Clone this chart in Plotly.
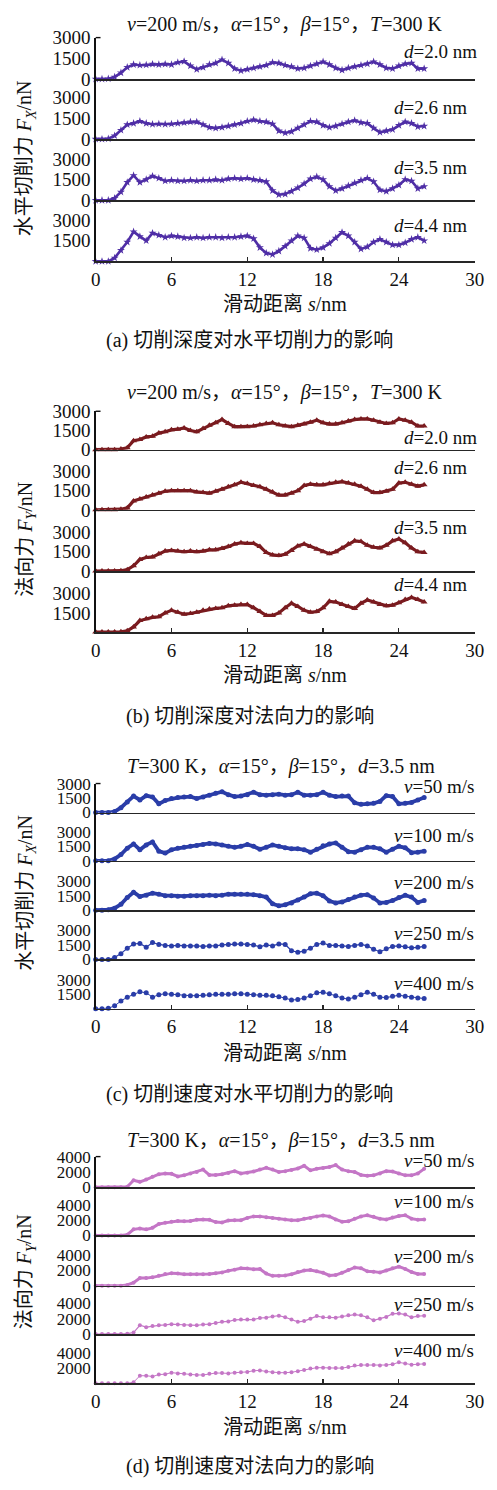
import plotly.graph_objects as go

# sliding distance grid (nm)
S = [0.0, 0.5, 1.0, 1.5, 2.0, 2.5, 3.0, 3.5, 4.0, 4.5, 5.0, 5.5, 6.0, 6.5, 7.0, 7.5,
     8.0, 8.5, 9.0, 9.5, 10.0, 10.5, 11.0, 11.5, 12.0, 12.5, 13.0, 13.5, 14.0, 14.5,
     15.0, 15.5, 16.0, 16.5, 17.0, 17.5, 18.0, 18.5, 19.0, 19.5, 20.0, 20.5, 21.0,
     21.5, 22.0, 22.5, 23.0, 23.5, 24.0, 24.5, 25.0, 25.5, 26.0]

# (a) horizontal cutting force Fx, various depths d
A_D20 = [0, 0, 20, 150, 450, 850, 1050, 1000, 1020, 1080, 1050, 1080, 1050, 1200, 1280, 950,
         700, 850, 1050, 1150, 1400, 1150, 750, 600, 700, 800, 900, 1000, 1200, 1150,
         1000, 900, 750, 800, 950, 1100, 1250, 1050, 800, 650, 800, 900, 1000,
         1100, 1250, 1050, 800, 750, 950, 1100, 1150, 750, 750]
A_D26 = [0, 0, 30, 250, 650, 1050, 1150, 1300, 1150, 1080, 1100, 1080, 1100, 1150, 1200, 1250,
         1250, 1050, 850, 800, 850, 950, 1050, 1150, 1300, 1400, 1300, 1250, 1100, 600,
         450, 550, 800, 1050, 1300, 1250, 1000, 850, 950, 1100, 1250, 1350, 1200,
         1150, 800, 500, 600, 700, 1000, 1250, 1150, 900, 950]
A_D35 = [0, 0, 0, 150, 600, 1300, 1800, 1300, 1500, 1750, 1600, 1400, 1450, 1400, 1400, 1450,
         1400, 1450, 1450, 1500, 1450, 1550, 1600, 1550, 1600, 1500, 1450, 1350, 700, 400,
         450, 650, 900, 1200, 1550, 1700, 1500, 1000, 700, 850, 1050, 1250, 1450,
         1600, 1350, 750, 650, 850, 1100, 1500, 1400, 850, 1000]
A_D44 = [0, 0, 0, 250, 800, 1400, 2150, 1800, 1500, 2050, 1900, 1750, 1850, 1800, 1700, 1700,
         1750, 1700, 1750, 1750, 1700, 1750, 1750, 1800, 1850, 1650, 1000, 600, 500, 750,
         1100, 1500, 1850, 1700, 950, 850, 1000, 1300, 1700, 2100, 1850, 1400, 900,
         1050, 1400, 1600, 1400, 1200, 1200, 1350, 1600, 1750, 1500]
A_LABELS = ["<i>d</i>=2.0 nm", "<i>d</i>=2.6 nm", "<i>d</i>=3.5 nm", "<i>d</i>=4.4 nm"]

# (b) normal force Fy, various depths d
B_D20 = [0, 0, 0, 0, 50, 150, 700, 800, 1000, 1050, 1300, 1400, 1550, 1600, 1700, 1500,
         1400, 1650, 1900, 2100, 2350, 2050, 1800, 1800, 1800, 1850, 1950, 2050, 2100, 1950,
         1850, 1800, 1900, 2000, 2150, 2300, 2100, 2000, 2000, 2100, 2250, 2350, 2400,
         2400, 2300, 2150, 2050, 2100, 2400, 2300, 2150, 1850, 1850]
B_D26 = [0, 0, 0, 0, 50, 150, 700, 850, 1000, 1150, 1300, 1450, 1500, 1500, 1500, 1500,
         1400, 1350, 1300, 1450, 1600, 1800, 1950, 2150, 2050, 1900, 1800, 1600, 1400, 1150,
         1150, 1300, 1500, 1900, 2000, 1950, 1950, 2050, 2150, 2200, 2100, 2000, 1850,
         1600, 1350, 1350, 1450, 1600, 2100, 2150, 2000, 1850, 1950]
B_D35 = [0, 0, 0, 0, 20, 100, 400, 900, 1050, 1100, 1350, 1550, 1600, 1550, 1500, 1550,
         1500, 1550, 1650, 1650, 1750, 1900, 2100, 2200, 2150, 2150, 1900, 1450, 1250, 1200,
         1300, 1600, 1950, 2100, 1900, 1700, 1500, 1350, 1500, 1800, 2100, 2350, 2300,
         2000, 1850, 1800, 2000, 2350, 2500, 2200, 1800, 1500, 1450]
B_D44 = [0, 0, 0, 0, 20, 100, 400, 900, 1050, 1150, 1200, 1500, 1700, 1550, 1400, 1450,
         1550, 1700, 1800, 1850, 1900, 2050, 2100, 2150, 2150, 1900, 1600, 1300, 1300, 1500,
         1900, 2250, 2000, 1700, 1550, 1600, 1900, 2400, 2350, 2150, 2000, 1850, 2250,
         2500, 2350, 2150, 2050, 2100, 2300, 2550, 2700, 2550, 2350]
B_LABELS = A_LABELS

# (c) horizontal cutting force Fx, various speeds v
C_V50 = [0, 0, 0, 100, 500, 1100, 1700, 1300, 1750, 1600, 900, 1250, 1450, 1550, 1600, 1650,
         1450, 1600, 1800, 2000, 2150, 1850, 1650, 1700, 1850, 2100, 1850, 1800, 1850, 1900,
         1800, 1850, 2100, 1800, 1800, 1850, 2100, 1800, 1650, 1700, 1700, 1000, 850,
         900, 950, 1150, 1750, 1650, 900, 950, 1050, 1300, 1550]
C_V100 = [0, 0, 0, 200, 650, 1300, 1750, 1150, 1650, 1950, 1000, 800, 1150, 1300, 1400, 1500,
          1600, 1700, 1800, 1750, 1650, 1500, 1400, 1500, 1700, 1500, 1200, 1400, 1650, 1500,
          1350, 1250, 1250, 1150, 900, 1200, 1550, 1750, 1850, 1400, 950, 900, 1150,
          1400, 1400, 1250, 900, 1200, 1500, 1350, 850, 900, 1000]
C_V200 = [0, 0, 50, 200, 600, 1300, 1850, 1400, 1550, 1750, 1650, 1500, 1500, 1450, 1450, 1500,
          1500, 1500, 1550, 1500, 1550, 1650, 1650, 1650, 1650, 1600, 1500, 1350, 650, 450,
          550, 750, 1050, 1350, 1700, 1750, 1500, 950, 750, 850, 1100, 1350, 1550,
          1600, 1250, 750, 800, 1000, 1300, 1550, 1350, 800, 1000]
C_V250 = [0, 0, 0, 200, 600, 1150, 1600, 1650, 1250, 1750, 1550, 1450, 1400, 1450, 1400, 1400,
          1400, 1350, 1400, 1400, 1500, 1550, 1600, 1600, 1550, 1500, 1300, 1500, 1400, 1600,
          1550, 900, 750, 850, 1150, 1550, 1700, 1450, 1450, 1400, 1350, 1450, 1550,
          1400, 1050, 800, 1100, 1350, 1400, 1300, 1200, 1250, 1350]
C_V400 = [0, 0, 50, 300, 800, 1200, 1500, 1750, 1650, 1200, 1450, 1550, 1500, 1450, 1350, 1350,
          1350, 1400, 1450, 1500, 1500, 1500, 1550, 1550, 1500, 1450, 1400, 1400, 1350, 1250,
          1100, 900, 950, 1100, 1350, 1650, 1700, 1550, 1350, 1100, 1000, 1200, 1450,
          1700, 1500, 1200, 1150, 1300, 1400, 1300, 1200, 1100, 1050]
C_LABELS = ["<i>v</i>=50 m/s", "<i>v</i>=100 m/s", "<i>v</i>=200 m/s", "<i>v</i>=250 m/s", "<i>v</i>=400 m/s"]

# (d) normal force Fy, various speeds v
D_V50 = [0, 0, 0, 0, 0, 50, 900, 700, 1000, 1350, 1700, 1800, 1750, 1400, 1550, 1800,
         2000, 2300, 1600, 1600, 1700, 1850, 2100, 1800, 1900, 2050, 2300, 2550, 2300, 2000,
         2100, 2250, 2450, 2800, 2200, 2400, 2500, 2650, 2900, 2300, 2100, 2000, 1600,
         1500, 1550, 1800, 2100, 2050, 1800, 1550, 1550, 1800, 2400]
D_V100 = [0, 0, 0, 0, 0, 100, 800, 900, 800, 1000, 1500, 1650, 1800, 1900, 1850, 1900,
          2050, 2100, 2050, 1750, 1700, 1950, 2000, 2000, 2300, 2500, 2500, 2400, 2300, 2200,
          2100, 2000, 2000, 2200, 2300, 2500, 2600, 2500, 2100, 1800, 1850, 2200, 2500,
          2650, 2450, 2200, 2100, 2350, 2550, 2650, 2200, 2050, 2100]
D_V200 = [0, 0, 0, 0, 0, 100, 400, 1000, 1000, 1100, 1300, 1550, 1650, 1600, 1500, 1500,
          1500, 1500, 1550, 1650, 1750, 1950, 2100, 2300, 2250, 2150, 2200, 1600, 1300, 1300,
          1350, 1500, 1800, 2000, 2050, 1900, 1700, 1350, 1400, 1700, 2050, 2400, 2300,
          1900, 1850, 1750, 2000, 2300, 2500, 2200, 1800, 1550, 1550]
D_V250 = [0, 0, 0, 0, 0, 50, 200, 1150, 900, 1050, 1150, 1200, 1300, 1250, 1200, 1150,
          1150, 1250, 1300, 1450, 1600, 1650, 1850, 1900, 1900, 1900, 2100, 2150, 2300, 2400,
          2200, 1900, 1600, 1700, 2000, 2350, 2200, 2200, 2150, 2300, 2450, 2550, 2450,
          2200, 1800, 2000, 2250, 2650, 2700, 2550, 2200, 2350, 2400]
D_V400 = [0, 0, 0, 0, 0, 0, 150, 1000, 1000, 900, 1150, 1200, 1400, 1300, 1250, 1150,
          1100, 1100, 1250, 1350, 1350, 1300, 1400, 1450, 1500, 1650, 1700, 1550, 1450, 1400,
          1400, 1450, 1600, 1750, 1950, 2050, 2050, 2000, 2000, 2000, 2150, 2350, 2400,
          2400, 2400, 2350, 2400, 2500, 2750, 2600, 2450, 2500, 2550]
D_LABELS = C_LABELS

X_TICKS = [0, 6, 12, 18, 24, 30]

# ---------------------------------------------------------------- layout
W, H = 497, 1490
XL, XR = 93.3, 483.3
SERIF = "Liberation Serif, Noto Sans CJK SC, serif"


def py(y):
    return 1 - y / H


def px(x):
    return x / W


panels = [
    dict(series=[A_D20, A_D26, A_D35, A_D44], labels=A_LABELS,
         zeros=[70, 131, 193, 255], ppu=14.0, ticks=[0, 1500, 3000], tfs=19,
         color="#4f2ea6", symbol="star", msize=[6, 6, 6, 6], lw=[2.6, 2.6, 2.6, 2.6],
         lab_y=[42, 99, 160, 219], lab_x=[488, 477, 477, 477],
         title="<i>v</i>=200 m/s，<i>α</i>=15°，<i>β</i>=15°，<i>T</i>=300 K", title_y=15, title_x=288,
         ytitle="水平切削力 <i>F</i><sub><i>X</i></sub>/nN", ytitle_y=150,
         xtitle_y=298, caption="(a) 切削深度对水平切削力的影响", caption_y=335),
    dict(series=[B_D20, B_D26, B_D35, B_D44], labels=B_LABELS,
         zeros=[446, 507, 569, 631], ppu=13.0, ticks=[0, 1500, 3000], tfs=19,
         color="#7a1b1f", symbol="triangle-up", msize=[6, 6, 6, 6], lw=[3.2, 3.2, 3.2, 3.2],
         lab_y=[434, 464, 525, 583], lab_x=[488, 477, 477, 477],
         title="<i>v</i>=200 m/s，<i>α</i>=15°，<i>β</i>=15°，<i>T</i>=300 K", title_y=388, title_x=288,
         ytitle="法向力 <i>F</i><sub><i>Y</i></sub>/nN", ytitle_y=537,
         xtitle_y=675, caption="(b) 切削深度对法向力的影响", caption_y=717),
    dict(series=[C_V50, C_V100, C_V200, C_V250, C_V400], labels=C_LABELS,
         zeros=[814, 863, 913, 963, 1013], ppu=9.8, ticks=[0, 1500, 3000], tfs=17,
         color="#2a3da8", symbol="circle", msize=[5, 5, 5, 5, 5], lw=[3.8, 3.8, 3.8, 1.2, 1],
         lab_y=[788, 837, 885, 937, 987], lab_x=[485, 485, 485, 485, 485],
         title="<i>T</i>=300 K，<i>α</i>=15°，<i>β</i>=15°，<i>d</i>=3.5 nm", title_y=767, title_x=284,
         ytitle="水平切削力 <i>F</i><sub><i>X</i></sub>/nN", ytitle_y=895,
         xtitle_y=1058, caption="(c) 切削速度对水平切削力的影响", caption_y=1100),
    dict(series=[D_V50, D_V100, D_V200, D_V250, D_V400], labels=D_LABELS,
         zeros=[1194, 1243, 1294, 1343, 1393], ppu=7.75, ticks=[0, 2000, 4000], tfs=17,
         color="#c476c6", symbol="circle", msize=[4, 4, 4, 4, 4], lw=[3, 3, 3, 1.2, 1],
         lab_y=[1167, 1209, 1264, 1313, 1360], lab_x=[485, 485, 485, 485, 485],
         title="<i>T</i>=300 K，<i>α</i>=15°，<i>β</i>=15°，<i>d</i>=3.5 nm", title_y=1147, title_x=284,
         ytitle="法向力 <i>F</i><sub><i>Y</i></sub>/nN", ytitle_y=1280,
         xtitle_y=1437, caption="(d) 切削速度对法向力的影响", caption_y=1477),
]

fig = go.Figure()
layout = dict(width=W, height=H, margin=dict(l=0, r=0, t=0, b=0),
              paper_bgcolor="white", plot_bgcolor="white", showlegend=False)
annotations = []
shapes = []
k = 0
for p in panels:
    n = len(p["series"])
    zeros = p["zeros"]
    tmax = p["ticks"][-1]
    top0 = zeros[0] - tmax * p["ppu"] / 1000.0
    tfont = dict(family=SERIF, size=p["tfs"], color="#111")
    for i in range(n):
        k += 1
        xa = "xaxis" if k == 1 else f"xaxis{k}"
        ya = "yaxis" if k == 1 else f"yaxis{k}"
        xr = "x" if k == 1 else f"x{k}"
        yr = "y" if k == 1 else f"y{k}"
        y_bot = zeros[i]
        y_top = top0 if i == 0 else zeros[i - 1]
        rtop = (y_bot - y_top) / p["ppu"] * 1000.0
        if i == 0:
            rtop = tmax * 1.0005
        last = (i == n - 1)
        xaxis = dict(domain=[px(XL), px(XR)], range=[0, 30], anchor=yr,
                     showline=True, linecolor="#262626", linewidth=1.6,
                     showgrid=False, zeroline=False)
        if last:
            xaxis.update(ticks="inside", ticklen=4, tickwidth=1.2, tickcolor="#262626",
                         tickvals=X_TICKS, showticklabels=True,
                         tickfont=dict(family=SERIF, size=19, color="#111"))
        else:
            xaxis.update(ticks="", showticklabels=False)
        layout[xa] = xaxis
        yt = p["ticks"] if not last else p["ticks"][1:]
        layout[ya] = dict(domain=[py(y_bot), py(y_top)], range=[0, rtop], anchor=xr,
                          showline=True, linecolor="#111", linewidth=1.4,
                          showgrid=False, zeroline=False, ticks="",
                          tickvals=yt, ticktext=[str(v) for v in yt],
                          tickfont=tfont)
        fig.add_trace(go.Scatter(
            x=S, y=p["series"][i], xaxis=xr, yaxis=yr, mode="lines+markers",
            line=dict(color=p["color"], width=p["lw"][i]),
            marker=dict(symbol=p["symbol"], size=p["msize"][i], color=p["color"],
                        line=dict(width=0)),
            cliponaxis=False, hoverinfo="skip"))
        annotations.append(dict(x=px(p["lab_x"][i]), y=py(p["lab_y"][i]), xref="paper", yref="paper",
                                text=p["labels"][i], showarrow=False, xanchor="right", yanchor="middle",
                                font=dict(family=SERIF, size=19, color="#111")))
    # small top tick on y axis
    shapes.append(dict(type="line", xref="paper", yref="paper",
                       x0=px(XL), x1=px(XL + 5), y0=py(top0), y1=py(top0),
                       line=dict(color="#111", width=1.4)))
    annotations.append(dict(x=px(p["title_x"]), y=py(p["title_y"]), xref="paper", yref="paper",
                            text=p["title"], showarrow=False, xanchor="center", yanchor="middle",
                            font=dict(family=SERIF, size=20, color="#111")))
    annotations.append(dict(x=px(22), y=py(p["ytitle_y"]), xref="paper", yref="paper",
                            text=p["ytitle"], showarrow=False, textangle=-90,
                            xanchor="center", yanchor="middle",
                            font=dict(family=SERIF, size=20, color="#111")))
    annotations.append(dict(x=px(288), y=py(p["xtitle_y"]), xref="paper", yref="paper",
                            text="滑动距离 <i>s</i>/nm", showarrow=False,
                            xanchor="center", yanchor="middle",
                            font=dict(family=SERIF, size=20, color="#111")))
    annotations.append(dict(x=px(252), y=py(p["caption_y"]), xref="paper", yref="paper",
                            text=p["caption"], showarrow=False,
                            xanchor="center", yanchor="middle",
                            font=dict(family=SERIF, size=20, color="#111")))

layout["annotations"] = annotations
layout["shapes"] = shapes
fig.update_layout(**layout)
fig.write_html("out.html",
               config={"displayModeBar": False, "staticPlot": True},
               post_script=("document.body.style.margin='0';document.body.style.padding='0';"
                            "document.body.style.overflow='hidden';"
                            "document.documentElement.style.overflow='hidden';"))
